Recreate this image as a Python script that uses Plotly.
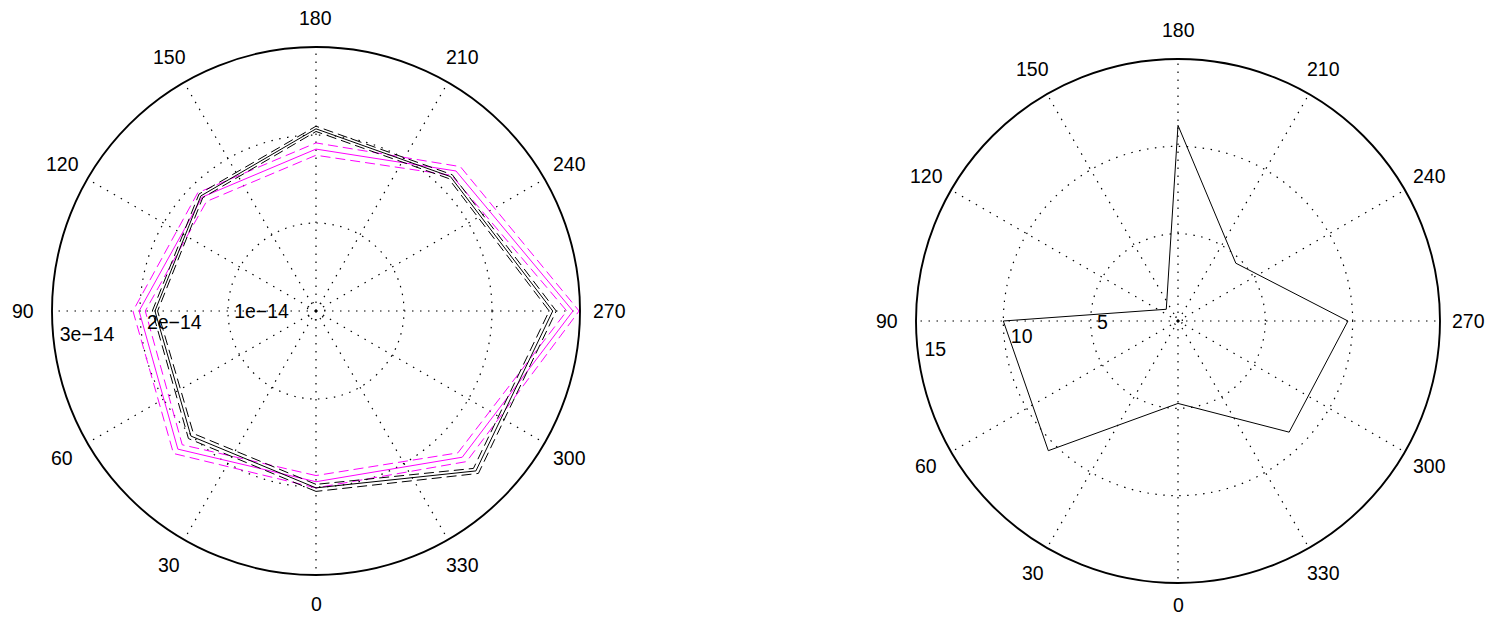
import math
import plotly.graph_objects as go

# body margin / scrollbars are removed by the post_script below
PAGE_MARGIN = 0
W, H = 1488, 619

# ---------------- data ----------------
theta_deg = [0, 45, 90, 135, 180, 225, 270, 315]

# left plot (values in absolute units)
black_mid = [2.01e-14, 2.01e-14, 1.83e-14, 1.85e-14, 2.07e-14, 2.16e-14, 2.69e-14, 2.57e-14]
black_hi = [2.05e-14, 2.05e-14, 1.86e-14, 1.88e-14, 2.10e-14, 2.19e-14, 2.73e-14, 2.61e-14]
black_lo = [1.97e-14, 1.97e-14, 1.80e-14, 1.82e-14, 2.04e-14, 2.13e-14, 2.65e-14, 2.53e-14]
mag_mid = [1.94e-14, 2.22e-14, 2.01e-14, 1.83e-14, 1.84e-14, 2.25e-14, 2.92e-14, 2.35e-14]
mag_hi = [2.01e-14, 2.29e-14, 2.08e-14, 1.90e-14, 1.91e-14, 2.32e-14, 2.99e-14, 2.42e-14]
mag_lo = [1.87e-14, 2.15e-14, 1.94e-14, 1.76e-14, 1.77e-14, 2.18e-14, 2.85e-14, 2.28e-14]

# right plot
right_vals = [4.72, 10.5, 10.0, 0.95, 11.2, 4.68, 9.73, 9.0]

angle_ticks = list(range(0, 360, 30))
angle_labels = [str(a) for a in angle_ticks]

left_rmax = 3e-14
left_rticks = [1e-14, 2e-14, 3e-14]
left_rlabels = ["1e\u221214", "2e\u221214", "3e\u221214"]
left_small = 0.1e-14

right_rmax = 15
right_rticks = [5, 10, 15]
right_rlabels = ["5", "10", "15"]
right_small = 0.25

FONT = "Liberation Sans, Arial, Helvetica, sans-serif"
FS = 19.5
DOT = "1.5px,6.5px"
DASH = "10px,5px"

# polar geometry in page pixels (center x, center y, radius, radial-label angle)
LEFT_GEOM = (316, 311, 264, 82.5)
RIGHT_GEOM = (1178, 321, 262, 81.2)


def closed(v):
    return list(v) + [v[0]]


th_closed = closed(theta_deg)

fig = go.Figure()


def add_lines(sub, series):
    for vals, color, dash in series:
        fig.add_trace(go.Scatterpolar(
            r=closed(vals), theta=th_closed, mode="lines", subplot=sub,
            line=dict(color=color, width=1, dash=dash), hoverinfo="skip"))


add_lines("polar", [
    (mag_hi, "#ff00ff", DASH),
    (mag_lo, "#ff00ff", DASH),
    (mag_mid, "#ff00ff", "solid"),
    (black_hi, "black", DASH),
    (black_lo, "black", DASH),
    (black_mid, "black", "solid"),
])
add_lines("polar2", [(right_vals, "black", "solid")])

annotations = []


def add_labels(sub, geom, rticks, rlabels):
    cx, cy, R, lab_theta = geom
    cx -= PAGE_MARGIN
    cy -= PAGE_MARGIN
    # angular labels just outside the outer circle (0 at bottom, clockwise)
    for a, lab in zip(angle_ticks, angle_labels):
        rad = math.radians(a)
        px = cx - 1.11 * R * math.sin(rad)
        py = cy + 1.11 * R * math.cos(rad)
        # keep the label box inside the figure area
        half_w = len(lab) * 0.556 * FS / 2
        half_h = 0.66 * FS
        px = min(max(px, half_w + 1), W - half_w - 1)
        py = min(max(py, half_h + 1), H - half_h - 1)
        annotations.append(dict(
            x=px / W, y=1 - py / H, xref="paper", yref="paper", text=lab,
            showarrow=False, xanchor="center", yanchor="middle",
            font=dict(family=FONT, size=FS, color="black")))
    # radial labels
    fig.add_trace(go.Scatterpolar(
        r=rticks, theta=[lab_theta] * len(rticks), mode="text",
        text=["\u00a0" + t for t in rlabels],
        textposition="top right", subplot=sub,
        textfont=dict(family=FONT, size=FS, color="black"), cliponaxis=False,
        hoverinfo="skip"))


add_labels("polar", LEFT_GEOM, left_rticks, left_rlabels)
add_labels("polar2", RIGHT_GEOM, right_rticks, right_rlabels)


def polar_layout(geom, rmax, grid_vals):
    cx, cy, R, _ = geom
    cx -= PAGE_MARGIN
    cy -= PAGE_MARGIN
    return dict(
        domain=dict(x=[(cx - R) / W, (cx + R) / W],
                    y=[(H - cy - R) / H, (H - cy + R) / H]),
        bgcolor="white",
        radialaxis=dict(range=[0, rmax], tickvals=grid_vals, showticklabels=False,
                        ticks="", showline=False, gridcolor="black", gridwidth=1.2,
                        griddash=DOT),
        angularaxis=dict(rotation=270, direction="clockwise", tickvals=angle_ticks,
                         showticklabels=False, ticks="", showline=True,
                         linecolor="black", linewidth=1.9, gridcolor="black",
                         gridwidth=1.2, griddash=DOT),
    )


fig.update_layout(
    width=W, height=H, margin=dict(l=0, r=0, t=0, b=0),
    paper_bgcolor="white", plot_bgcolor="white", showlegend=False,
    polar=polar_layout(LEFT_GEOM, left_rmax, [left_small] + left_rticks[:-1]),
    polar2=polar_layout(RIGHT_GEOM, right_rmax, [right_small] + right_rticks[:-1]),
    annotations=annotations,
)

POST = ("document.body.style.margin='0px';"
        "document.body.style.overflow='hidden';"
        "document.documentElement.style.overflow='hidden';")

fig.write_html("out.html", post_script=POST,
               config=dict(displayModeBar=False, staticPlot=True))
